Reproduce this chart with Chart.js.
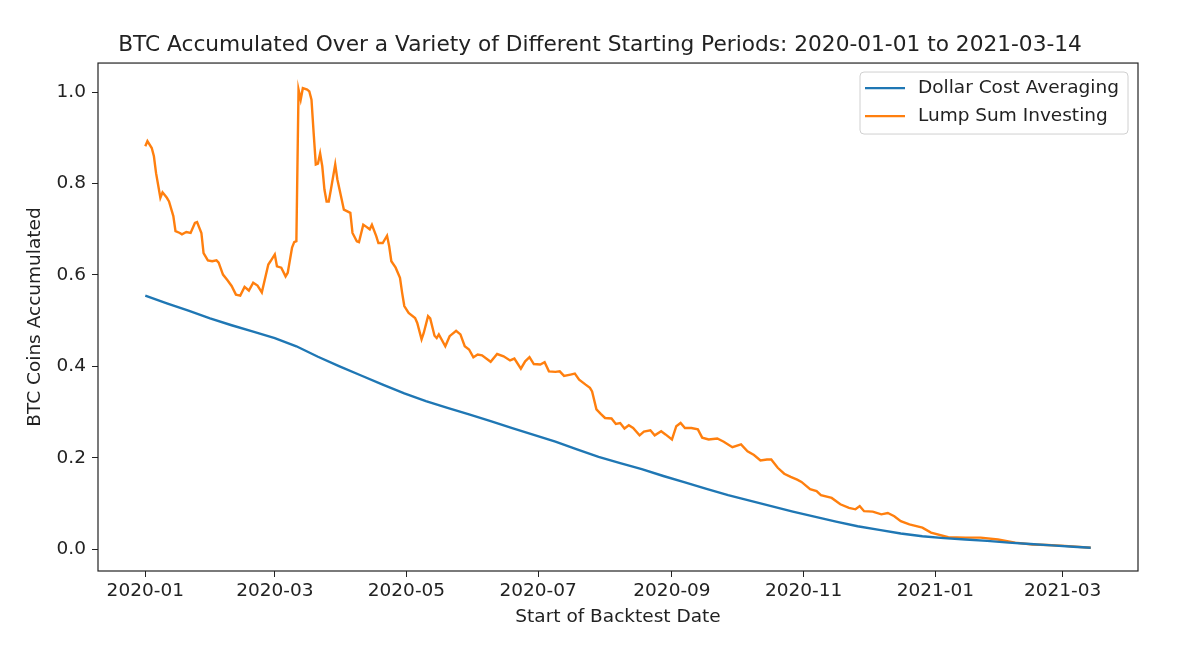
<!DOCTYPE html>
<html>
<head>
<meta charset="utf-8">
<script src="https://cdn.jsdelivr.net/npm/chart.js@4"></script>
<style>
    html, body { margin: 0; padding: 0; background: #fff; }
    #wrap { width: 1200px; height: 654px; }
</style>
</head>
<body>
<div id="wrap"><canvas id="btcChart"></canvas></div>
<script>
// days since 2020-01-01
const tickDays = [0, 60, 121, 182, 244, 305, 366, 425];
const tickLabels = ["2020-01", "2020-03", "2020-05", "2020-07", "2020-09", "2020-11", "2021-01", "2021-03"];

const dcaDays = [0, 10, 20, 30, 40, 50, 60, 70, 80, 90, 100, 110, 120, 130, 140, 150, 160, 170, 180, 190,
    200, 210, 220, 230, 240, 250, 260, 270, 280, 290, 300, 310, 320, 330, 340, 350, 360, 370, 380, 390,
    400, 410, 420, 430, 438];
const dcaValues = [0.555, 0.538, 0.522, 0.505, 0.490, 0.476, 0.462, 0.444, 0.421, 0.400, 0.380, 0.360, 0.341,
    0.324, 0.309, 0.295, 0.280, 0.265, 0.250, 0.235, 0.218, 0.202, 0.188, 0.175, 0.160, 0.146, 0.132, 0.118,
    0.106, 0.094, 0.082, 0.071, 0.060, 0.050, 0.042, 0.034, 0.028, 0.024, 0.021, 0.018, 0.014, 0.011, 0.008,
    0.005, 0.003];

const lumpDays = [0, 1, 3, 4, 5, 7, 8, 10, 11, 13, 14, 16, 17, 19, 21, 23, 24, 26, 27, 29, 31, 33, 34, 36, 38,
    40, 42, 44, 46, 48, 50, 52, 54, 57, 58, 60, 61, 63, 65, 66, 68, 69, 70, 71, 72, 73, 75, 76, 77, 78, 79, 80,
    81, 82, 83, 84, 85, 86, 88, 89, 91, 92, 95, 96, 98, 99, 101, 102, 104, 105, 107, 108, 110, 112, 113, 114,
    116, 118, 119, 120, 122, 125, 126, 128, 129, 131, 132, 134, 135, 136, 139, 141, 144, 146, 148, 150, 152,
    154, 156, 160, 163, 166, 169, 171, 174, 176, 178, 180, 183, 185, 187, 190, 192, 194, 197, 199, 201, 204,
    206, 207, 209, 211, 213, 216, 218, 220, 222, 224, 226, 229, 231, 234, 236, 239, 241, 244, 246, 248, 250,
    253, 256, 258, 261, 265, 268, 272, 276, 279, 282, 285, 288, 290, 293, 296, 299, 302, 304, 308, 311, 313,
    318, 322, 326, 329, 331, 333, 337, 341, 344, 347, 350, 354, 360, 364, 372, 380, 387, 395, 403, 411, 418,
    426, 438];
const lumpValues = [0.882, 0.893, 0.878, 0.860, 0.823, 0.769, 0.781, 0.769, 0.761, 0.729, 0.696, 0.692, 0.689,
    0.694, 0.692, 0.714, 0.716, 0.692, 0.648, 0.632, 0.630, 0.632, 0.627, 0.601, 0.589, 0.576, 0.557, 0.555,
    0.574, 0.566, 0.583, 0.577, 0.562, 0.623, 0.630, 0.645, 0.619, 0.616, 0.597, 0.605, 0.660, 0.672, 0.674,
    1.006, 0.984, 1.009, 1.006, 1.002, 0.984, 0.911, 0.842, 0.844, 0.866, 0.838, 0.787, 0.761, 0.761, 0.787,
    0.842, 0.809, 0.765, 0.743, 0.736, 0.692, 0.674, 0.672, 0.710, 0.707, 0.700, 0.710, 0.685, 0.670, 0.670,
    0.686, 0.663, 0.630, 0.616, 0.594, 0.561, 0.532, 0.517, 0.506, 0.495, 0.459, 0.473, 0.510, 0.505, 0.467,
    0.462, 0.470, 0.444, 0.466, 0.478, 0.470, 0.444, 0.437, 0.420, 0.426, 0.424, 0.410, 0.427, 0.422, 0.413,
    0.417, 0.395, 0.411, 0.420, 0.405, 0.404, 0.409, 0.389, 0.388, 0.389, 0.379, 0.382, 0.384, 0.371, 0.360,
    0.353, 0.345, 0.306, 0.296, 0.287, 0.286, 0.274, 0.276, 0.264, 0.271, 0.265, 0.249, 0.257, 0.260, 0.249,
    0.258, 0.251, 0.240, 0.269, 0.276, 0.265, 0.265, 0.262, 0.244, 0.240, 0.242, 0.235, 0.223, 0.229, 0.214,
    0.206, 0.194, 0.196, 0.196, 0.178, 0.165, 0.158, 0.152, 0.147, 0.131, 0.127, 0.118, 0.112, 0.098, 0.090,
    0.087, 0.094, 0.083, 0.082, 0.076, 0.079, 0.072, 0.061, 0.054, 0.047, 0.036, 0.026, 0.025, 0.025, 0.021,
    0.014, 0.010, 0.009, 0.007, 0.003];

const FONT = "'DejaVu Sans', sans-serif";

function toPoints(xs, ys) {
    return xs.map((x, i) => ({ x, y: ys[i] }));
}

// frame on all four sides + matplotlib-like legend in the upper right
const frameAndLegend = {
    id: "frameAndLegend",
    afterDraw(chart) {
        const { ctx, chartArea: a } = chart;
        ctx.save();
        ctx.strokeStyle = "#222";
        ctx.lineWidth = 1.2;
        ctx.strokeRect(a.left, a.top, a.right - a.left, a.bottom - a.top);

        const boxW = 268, boxH = 62;
        const bx = a.right - 10 - boxW, by = a.top + 9;
        ctx.fillStyle = "rgba(255,255,255,0.85)";
        ctx.strokeStyle = "#d0d0d0";
        ctx.lineWidth = 1;
        ctx.beginPath();
        ctx.roundRect(bx, by, boxW, boxH, 4);
        ctx.fill();
        ctx.stroke();

        ctx.font = "18.5px " + FONT;
        ctx.textBaseline = "middle";
        chart.data.datasets.forEach((ds, i) => {
            const y = by + 16 + i * 28;
            ctx.strokeStyle = ds.borderColor;
            ctx.lineWidth = 2.2;
            ctx.beginPath();
            ctx.moveTo(bx + 5, y);
            ctx.lineTo(bx + 45, y);
            ctx.stroke();
            ctx.fillStyle = "#222";
            ctx.fillText(ds.label, bx + 58, y);
        });
        ctx.restore();
    }
};

new Chart(document.getElementById("btcChart"), {
    type: "line",
    data: {
        datasets: [{
            label: "Dollar Cost Averaging",
            data: toPoints(dcaDays, dcaValues),
            borderColor: "#1f77b4",
            borderWidth: 2.4,
            pointRadius: 0,
            tension: 0
        }, {
            label: "Lump Sum Investing",
            data: toPoints(lumpDays, lumpValues),
            borderColor: "#ff7f0e",
            borderWidth: 2.4,
            pointRadius: 0,
            tension: 0
        }]
    },
    options: {
        responsive: true,
        maintainAspectRatio: false,
        animation: false,
        layout: { padding: 0 },
        scales: {
            x: {
                type: "linear",
                min: -21.9,
                max: 459.9,
                afterBuildTicks: s => { s.ticks = tickDays.map(v => ({ value: v })); },
                afterFit: s => { s.height = 83; },
                ticks: {
                    autoSkip: false,
                    maxRotation: 0,
                    padding: 3,
                    color: "#222",
                    font: { family: FONT, size: 18.5 },
                    callback: v => tickLabels[tickDays.indexOf(v)] ?? ""
                },
                grid: { drawOnChartArea: false, tickLength: 6, color: "#222" },
                border: { display: false },
                title: {
                    display: true,
                    text: "Start of Backtest Date",
                    color: "#222",
                    font: { family: FONT, size: 18.5 },
                    padding: { top: 2, bottom: 26 }
                }
            },
            y: {
                min: -0.048,
                max: 1.064,
                afterBuildTicks: s => { s.ticks = [0, 0.2, 0.4, 0.6, 0.8, 1.0].map(v => ({ value: v })); },
                afterFit: s => { s.width = 98; },
                ticks: {
                    padding: 6,
                    color: "#222",
                    font: { family: FONT, size: 18.5 },
                    callback: v => v.toFixed(1)
                },
                grid: { drawOnChartArea: false, tickLength: 6, color: "#222" },
                border: { display: false },
                title: {
                    display: true,
                    text: "BTC Coins Accumulated",
                    color: "#222",
                    font: { family: FONT, size: 18.5 },
                    padding: { top: 24, bottom: 0 }
                }
            },
            // empty right-hand margin so the title centres like the reference
            yRight: {
                position: "right",
                afterFit: s => { s.width = 62; },
                ticks: { display: false },
                grid: { display: false },
                border: { display: false }
            }
        },
        plugins: {
            legend: { display: false },
            tooltip: { enabled: false },
            title: {
                display: true,
                text: "BTC Accumulated Over a Variety of Different Starting Periods: 2020-01-01 to 2021-03-14",
                color: "#222",
                font: { family: FONT, size: 21.7, weight: "normal" },
                padding: { top: 32, bottom: 5 }
            }
        }
    },
    plugins: [frameAndLegend]
});
</script>
</body>
</html>
